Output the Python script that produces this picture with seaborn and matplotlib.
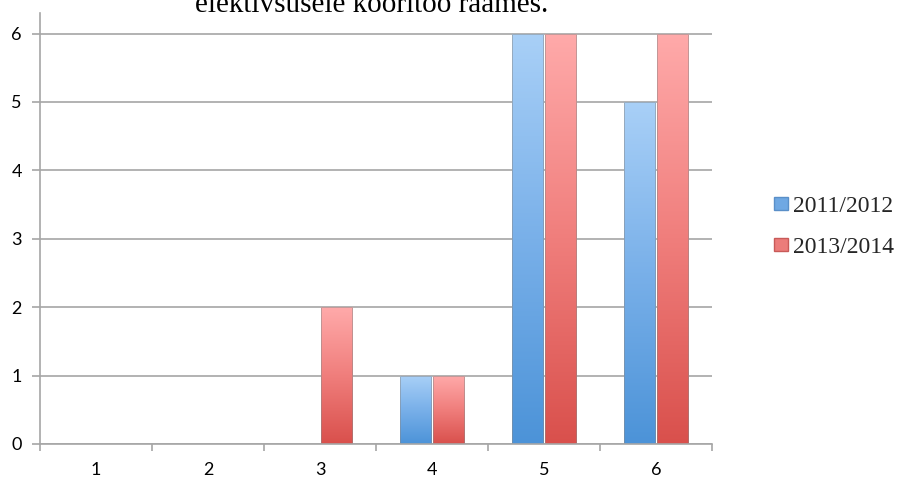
import numpy as np
import pandas as pd
import matplotlib
matplotlib.use("Agg")
import matplotlib.pyplot as plt
import seaborn as sns
from matplotlib.colors import LinearSegmentedColormap
from matplotlib.patches import Patch

categories = ["1", "2", "3", "4", "5", "6"]
series_names = ["2011/2012", "2013/2014"]
values_2011 = [0, 0, 0, 1, 6, 5]
values_2013 = [0, 0, 2, 1, 6, 6]
title_text = "elektivsusele kooritöö raames."

df = pd.DataFrame({
    "cat": categories * 2,
    "val": values_2011 + values_2013,
    "series": [series_names[0]] * 6 + [series_names[1]] * 6,
})

sns.set_theme(style="white")
plt.rcParams["font.family"] = ["Lato", "DejaVu Sans"]

fig = plt.figure(figsize=(8.99, 4.79), dpi=100)
ax = fig.add_axes([40 / 899, 35 / 479, 672 / 899, 431 / 479])

palette = {series_names[0]: "#7fb3e8", series_names[1]: "#f08a88"}
sns.barplot(data=df, x="cat", y="val", hue="series", order=categories,
            hue_order=series_names, palette=palette, width=0.58, gap=0.04,
            ax=ax, legend=False, saturation=1, edgecolor="none")

ax.yaxis.grid(True, color="#a6a6a6", linewidth=1.2)
ax.set_axisbelow(True)
ax.set_xlabel("")
ax.set_ylabel("")

grads = {
    series_names[0]: LinearSegmentedColormap.from_list("b", ["#4c93d8", "#79b0e9", "#a9d0f7"]),
    series_names[1]: LinearSegmentedColormap.from_list("r", ["#d9504c", "#f07e7c", "#ffaaaa"]),
}
grad = np.linspace(0, 1, 256).reshape(-1, 1)
for cont, name in zip(ax.containers, series_names):
    for p in cont.patches:
        h = p.get_height()
        if h <= 0:
            continue
        x0 = p.get_x(); w = p.get_width()
        im = ax.imshow(grad, cmap=grads[name], aspect="auto", origin="lower",
                       extent=[x0, x0 + w, 0, h], zorder=p.get_zorder() + 0.1)
        im.set_clip_path(p)
        ax.add_patch(plt.Rectangle((x0, 0), w, h, fill=False, edgecolor="#8a8a8a",
                                   linewidth=0.6, alpha=0.6, zorder=p.get_zorder() + 0.2))
ax.set_xlim(-0.5, 5.5)
ax.set_ylim(0, 6.3)
ax.set_yticks(range(0, 7))

for s in ["top", "right"]:
    ax.spines[s].set_visible(False)
for s in ["left", "bottom"]:
    ax.spines[s].set_color("#a6a6a6")
    ax.spines[s].set_linewidth(1.2)

ax.set_xticks(np.arange(-0.5, 6.0, 1.0), minor=False)
ax.set_xticklabels([])
ax.set_xticks(range(6), minor=True)
ax.set_xticklabels(categories, minor=True)
ax.tick_params(axis="x", which="major", length=5, width=1.2, color="#a6a6a6", direction="out", bottom=True)
ax.tick_params(axis="x", which="minor", length=0, labelsize=13, pad=13, colors="black")
ax.tick_params(axis="y", length=6, width=1.2, color="#a6a6a6", direction="out", left=True,
               labelsize=13, pad=7, labelcolor="black")

fig.text(372 / 899, 1 - 12.5 / 479, title_text, ha="center", va="baseline",
         fontsize=21, family=["Liberation Serif", "DejaVu Serif"], color="black")

handles = [Patch(facecolor="#6fa8e3", edgecolor="#5a8fc8"),
           Patch(facecolor="#ec7c7a", edgecolor="#c85a58")]
fig.legend(handles, series_names, loc="center left", bbox_to_anchor=(0.861, 0.526),
           frameon=False, handlelength=0.6, handleheight=0.5, handletextpad=0.2,
           labelspacing=0.85, borderaxespad=0, borderpad=0,
           prop={"family": ["Liberation Serif", "DejaVu Serif"], "size": 17})

fig.savefig("out.png", dpi=100)
